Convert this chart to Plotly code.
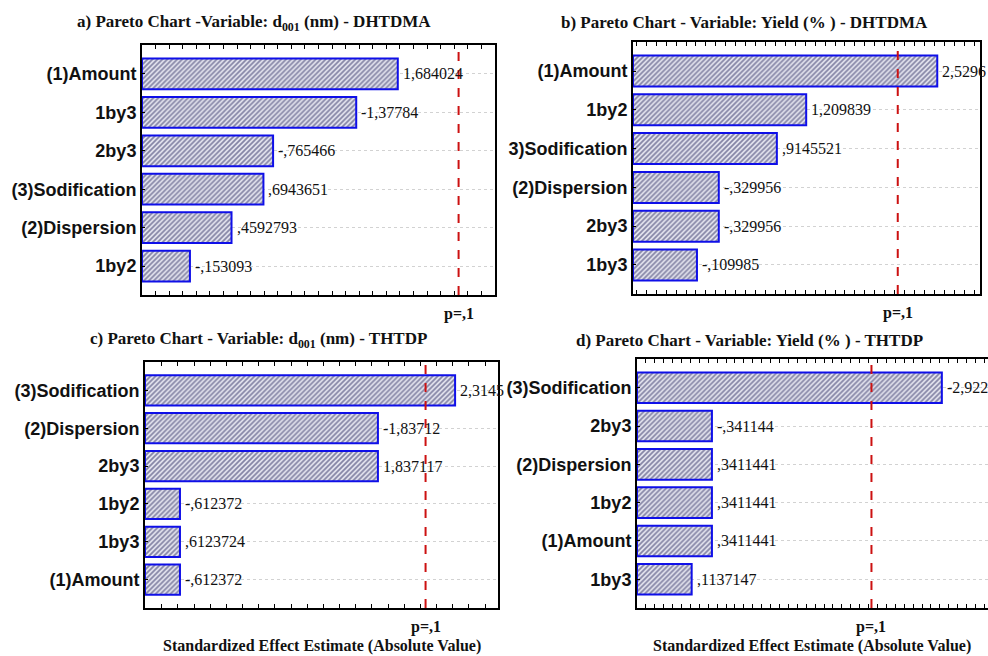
import plotly.graph_objects as go

# ---------------- data ----------------
cats_a = ["(1)Amount", "1by3", "2by3", "(3)Sodification", "(2)Dispersion", "1by2"]
vals_a = [1.684024, -1.37784, -0.765466, 0.6943651, 0.4592793, -0.153093]
text_a = ["1,684024", "-1,37784", "-,765466", ",6943651", ",4592793", "-,153093"]

cats_b = ["(1)Amount", "1by2", "3)Sodification", "(2)Dispersion", "2by3", "1by3"]
vals_b = [2.5296, 1.209839, 0.9145521, -0.329956, -0.329956, -0.109985]
text_b = ["2,5296", "1,209839", ",9145521", "-,329956", "-,329956", "-,109985"]

cats_c = ["(3)Sodification", "(2)Dispersion", "2by3", "1by2", "1by3", "(1)Amount"]
vals_c = [2.3145, -1.83712, 1.837117, -0.612372, 0.6123724, -0.612372]
text_c = ["2,3145", "-1,83712", "1,837117", "-,612372", ",6123724", "-,612372"]

cats_d = ["(3)Sodification", "2by3", "(2)Dispersion", "1by2", "(1)Amount", "1by3"]
vals_d = [-2.922, -0.341144, 0.3411441, 0.3411441, 0.3411441, 0.1137147]
text_d = ["-2,922", "-,341144", ",3411441", ",3411441", ",3411441", ",1137147"]

titles = [
    "a) Pareto Chart -Variable: d<sub>001</sub> (nm) - DHTDMA",
    "b) Pareto Chart - Variable: Yield (% ) - DHTDMA",
    "c) Pareto Chart - Variable: d<sub>001</sub> (nm) - THTDP",
    "d) Pareto Chart - Variable: Yield (% ) - THTDP",
]
p_crit = 2.131847          # critical t (p = 0.1)
p_label = "p=,1"
x_title = "Standardized Effect Estimate (Absolute Value)"

# ---------------- layout helpers ----------------
W, H = 988, 656

def px_x(v):
    return v / W

def px_y(v):
    return 1 - v / H

panels = [
    # cats, vals, text, xrange, (left,right,top,bottom) px, title center (x,y), right border
    (cats_a, vals_a, text_a, [-0.2, 2.40], (142, 495, 45, 295), (254, 23), True),
    (cats_b, vals_b, text_b, [-0.534, 2.96], (633, 980, 42, 294), (744, 23), True),
    (cats_c, vals_c, text_c, [0.396, 2.58], (145, 498, 362, 608), (258, 340), True),
    (cats_d, vals_d, text_d, [-0.5, 3.44], (637, 988, 359, 608), (749, 340), False),
]

fig = go.Figure()
annotations = []
shapes = []
serif = "Liberation Serif"
sans = "Liberation Sans"

for i, (cats, vals, texts, xr, box, tpos, mir) in enumerate(panels, start=1):
    sfx = "" if i == 1 else str(i)
    xa, ya = "x" + sfx, "y" + sfx
    left, right, top, bottom = box
    xmin = xr[0]
    mags = [abs(v) for v in vals]
    fig.add_trace(go.Bar(
        y=cats, x=[m - xmin for m in mags], base=[xmin] * len(mags),
        orientation="h", xaxis=xa, yaxis=ya, width=0.8,
        marker=dict(color="white",
                    line=dict(color="#0f0fe8", width=2),
                    pattern=dict(shape="/", fgcolor="#22225a", bgcolor="#e6e6f0",
                                 size=3.5, solidity=0.5)),
        showlegend=False, hoverinfo="skip",
    ))
    for c, m, t in zip(cats, mags, texts):
        annotations.append(dict(
            x=m, y=c, xref=xa, yref=ya, text=t, showarrow=False,
            xanchor="left", yanchor="middle", xshift=3,
            font=dict(family=serif, size=16, color="#111"),
        ))
    shapes.append(dict(
        type="line", xref=xa, yref=ya + " domain", x0=p_crit, x1=p_crit, y0=0, y1=1,
        line=dict(color="#cc1111", width=2, dash="dash"), layer="above",
    ))
    annotations.append(dict(
        x=p_crit, y=0, xref=xa, yref=ya + " domain", text="<b>" + p_label + "</b>",
        showarrow=False, xanchor="center", yanchor="top", yshift=-8,
        font=dict(family=serif, size=16, color="#111"),
    ))
    annotations.append(dict(
        x=px_x(tpos[0]), y=px_y(tpos[1]), xref="paper", yref="paper",
        text="<b>" + titles[i - 1] + "</b>", showarrow=False,
        xanchor="center", yanchor="middle",
        font=dict(family=serif, size=17, color="#111"),
    ))
    fig.layout["xaxis" + sfx] = dict(
        domain=[px_x(left), px_x(right)], range=xr, anchor=ya,
        showline=True, linecolor="black", linewidth=2, mirror="ticks",
        ticks="inside", ticklen=4, tickcolor="black", tickwidth=1,
        tick0=0, dtick=0.1, showticklabels=False, showgrid=False, zeroline=False,
        fixedrange=True,
    )
    fig.layout["yaxis" + sfx] = dict(
        domain=[px_y(bottom), px_y(top)], anchor=xa,
        type="category", categoryorder="array", categoryarray=cats,
        range=[len(cats) - 0.25, -0.75],
        showline=True, linecolor="black", linewidth=2,
        mirror=True if mir else False,
        ticks="inside", ticklen=3, tickcolor="black",
        showgrid=True, gridcolor="#d2d2d2", griddash="dot", gridwidth=1,
        tickfont=dict(family=sans, size=18, color="#111", weight="bold"),
        zeroline=False, fixedrange=True,
    )

# x axis titles under the lower panels
for xc in (322, 812):
    annotations.append(dict(
        x=px_x(xc), y=px_y(646), xref="paper", yref="paper",
        text="<b>" + x_title + "</b>", showarrow=False,
        xanchor="center", yanchor="middle",
        font=dict(family=serif, size=16, color="#111"),
    ))

fig.update_layout(
    width=W, height=H, margin=dict(l=0, r=0, t=0, b=0),
    paper_bgcolor="white", plot_bgcolor="white",
    annotations=annotations, shapes=shapes, bargap=0.2,
)

fig.write_html("out.html", config={"displayModeBar": False},
               post_script="document.body.style.margin='0';document.body.style.overflow='hidden';")
